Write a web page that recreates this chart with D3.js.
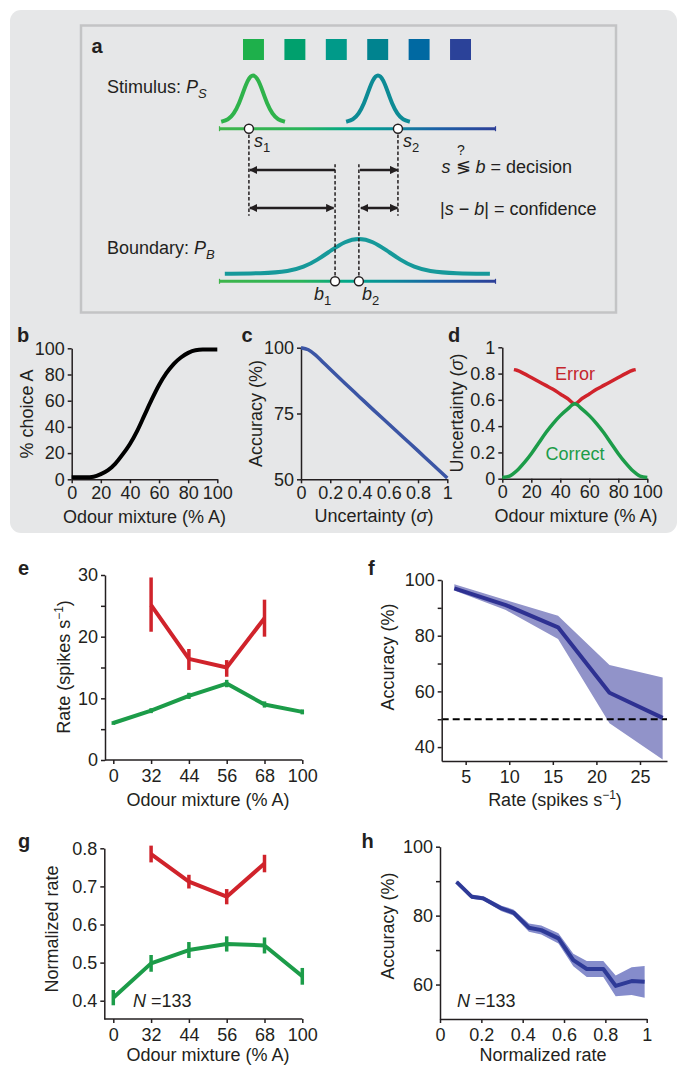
<!DOCTYPE html>
<html><head><meta charset="utf-8">
<script src="https://cdn.jsdelivr.net/npm/d3@7/dist/d3.min.js"></script>
<style>html,body{margin:0;padding:0;background:#fff}</style>
</head><body>
<svg id="fig" width="677" height="1067" xmlns="http://www.w3.org/2000/svg"></svg>
<script>
// ---------------- data ----------------
// panel a (schematic)
const swatchColors = ["#1eb04b","#00a06d","#009a89","#00838f","#0069a2","#2b4299"];
const stimulusCenters = [0.123, 0.574];
const stimulusColors = ["#2fb34b","#0d8b95"];
const stimulusSamples = [0.108, 0.646];     // s1, s2
const boundaryCenter = 0.505;
const boundarySamples = [0.419, 0.505];     // b1, b2
const stimProfileOffsets = [-0.115,-0.09,-0.07,-0.05,-0.035,-0.02,0,0.02,0.035,0.05,0.07,0.09,0.115];
const stimProfileHeights = [0,0.04,0.15,0.38,0.62,0.86,1,0.86,0.62,0.38,0.15,0.04,0];
const boundProfileOffsets = [-0.484,-0.35,-0.25,-0.2,-0.15,-0.1,-0.05,0,0.05,0.1,0.15,0.2,0.25,0.35,0.473];
const boundProfileHeights = [0,0.005,0.07,0.18,0.38,0.65,0.9,1,0.9,0.65,0.38,0.18,0.07,0.005,0];

// panel b
const bMixture = [0,5,10,15,20,25,30,35,40,45,50,55,60,65,70,75,80,85,90,95,100];
const bChoiceA = [1.5,1.5,1.5,2,4,7,12,19,27,37,49,61,72,81,88,93,96.5,98.5,99,99,99];
const bTicks = [0,20,40,60,80,100];

// panel c
const cSigma = [0,0.05,0.1,0.15,0.2,0.3,0.4,0.5,0.6,0.7,0.8,0.9,1];
const cAccuracy = [100,99.2,97.2,94.5,91.8,86.5,81.3,76.1,71,65.9,60.8,55.6,50.5];
const cXTicks = [0,0.2,0.4,0.6,0.8,1];
const cYTicks = [50,75,100];

// panel d
const dCorrectX = [0,5,10,15,20,25,30,35,40,45,50,55,60,65,70,75,80,85,90,95,100];
const dCorrect = [0.01,0.02,0.06,0.12,0.19,0.27,0.35,0.42,0.48,0.53,0.57,0.53,0.48,0.42,0.35,0.27,0.19,0.12,0.06,0.02,0.01];
const dErrorX = [8,10,15,20,25,30,35,40,45,50,55,60,65,70,75,80,85,90,92];
const dError = [0.83,0.825,0.80,0.77,0.74,0.71,0.68,0.645,0.61,0.57,0.61,0.645,0.68,0.71,0.74,0.77,0.80,0.825,0.83];
const dXTicks = [0,20,40,60,80,100];
const dYTicks = [0,0.2,0.4,0.6,0.8,1];

// panel e
const mixCats = ["0","32","44","56","68","100"];
const eCorrect = [6, 8, 10.4, 12.4, 9, 7.8];
const eCorrectErr = [0.3, 0.4, 0.5, 0.6, 0.5, 0.4];
const errCats = ["32","44","56","68"];
const eError = [25.1, 16.4, 15, 23];
const eErrorLow = [20.8, 14.6, 13.5, 20];
const eErrorHigh = [29.6, 18, 16.2, 26];
const eYTicks = [0,5,10,15,20,25,30];

// panel f
const fRate = [3.7, 9.6, 15.6, 21.5, 27.6];
const fAccuracy = [97, 91, 83, 59.5, 50.5];
const fUpper = [98.5, 92.8, 87.2, 69.5, 65];
const fLower = [96.2, 89.2, 78.8, 48.6, 35.5];
const fChance = 50;
const fXTicks = [5,10,15,20,25];
const fYTicks = [40,50,60,70,80,90,100];

// panel g
const gCorrect = [0.408, 0.498, 0.533, 0.549, 0.545, 0.464];
const gCorrectErr = [0.02, 0.022, 0.021, 0.02, 0.021, 0.022];
const gError = [0.785, 0.7125, 0.673, 0.76];
const gErrorErr = [0.022, 0.018, 0.02, 0.023];
const gYTicks = [0.4,0.5,0.6,0.7,0.8];

// panel h
const hRate = [0.08,0.153,0.21,0.298,0.355,0.43,0.49,0.573,0.645,0.71,0.79,0.85,0.927,0.99];
const hAccuracy = [89.8,85.5,85,82.1,80.9,76.5,75.8,73.4,67.1,64.5,64.5,59.6,61,60.8];
const hSem = [0.4,0.6,0.6,0.8,0.9,1.2,1.3,1.5,1.8,2.3,2.3,3,4,4.6];
const hXTicks = [0,0.2,0.4,0.6,0.8,1];
const hYTicks = [60,70,80,90,100];

// ---------------- drawing ----------------
const FONT = '"Liberation Sans", Arial, Helvetica, sans-serif';
const INK = "#231f20";
const RED = "#d0232b", GREEN = "#1c9c49";
const FS = 18;
const svg = d3.select("#fig").style("font-family", FONT);

svg.append("rect").attr("width",677).attr("height",1067).attr("fill","#fff");
svg.append("rect").attr("x",10).attr("y",10).attr("width",667).attr("height",523).attr("rx",11).attr("fill","#e6e7e8");
svg.append("rect").attr("x",81).attr("y",25.5).attr("width",535).attr("height",287)
  .attr("fill","none").attr("stroke","#c3c4c5").attr("stroke-width",2.5);

function txt(x, y, s, opts = {}) {
  const t = svg.append("text").attr("x",x).attr("y",y).attr("font-size",opts.size||FS)
    .attr("fill",opts.fill||INK).attr("text-anchor",opts.anchor||"start");
  if (opts.weight) t.attr("font-weight",opts.weight);
  if (opts.italic) t.attr("font-style","italic");
  if (s !== null) t.text(s);
  return t;
}
function panelLabel(x, y, s) { txt(x, y, s, {size:20, weight:700}); }

function styleAxis(g) {
  g.attr("font-family", FONT).attr("font-size", FS);
  g.selectAll(".domain").attr("stroke", INK).attr("stroke-width", 1.5);
  g.selectAll(".tick line").attr("stroke", INK).attr("stroke-width", 1.5);
  g.selectAll(".tick text").attr("fill", INK);
}
function yTitle(x, y, build) {
  const t = svg.append("text").attr("transform",`translate(${x},${y}) rotate(-90)`)
    .attr("text-anchor","middle").attr("font-size",FS).attr("fill",INK);
  build(t);
}
function xTitle(x, y, build) {
  const t = svg.append("text").attr("x",x).attr("y",y)
    .attr("text-anchor","middle").attr("font-size",FS).attr("fill",INK);
  build(t);
}
const plain = s => t => t.text(s);
const sigmaTitle = t => { t.append("tspan").text("Uncertainty ("); t.append("tspan").attr("font-style","italic").text("σ"); t.append("tspan").text(")"); };
const rateTitle = t => { t.append("tspan").text("Rate (spikes s"); t.append("tspan").attr("font-size",12).attr("dy",-7).text("−1"); t.append("tspan").attr("dy",7).text(")"); };

// ======== panel a ========
panelLabel(91.5, 53, "a");
const sw = d3.scaleBand().domain(d3.range(swatchColors.length)).range([243,471]).paddingInner(0.494);
svg.append("g").selectAll("rect").data(swatchColors).join("rect")
  .attr("x",(d,i)=>sw(i)).attr("y",39).attr("width",sw.bandwidth()).attr("height",21).attr("fill",d=>d);

const ax = d3.scaleLinear().domain([0,1]).range([219,496]);
const stimLineY = 128.7, boundLineY = 281.3;
const stimY = d3.scaleLinear().domain([0,1]).range([121.7, 73.3]);
const boundY = d3.scaleLinear().domain([0,1]).range([273.7, 237.7]);

const defs = svg.append("defs");
const grad = defs.append("linearGradient").attr("id","axisGrad").attr("gradientUnits","userSpaceOnUse")
  .attr("x1",ax(0)).attr("x2",ax(1)).attr("y1",0).attr("y2",0);
[[0,"#3fb54a"],[0.3,"#2ab45a"],[0.47,"#00a78b"],[0.62,"#0b8d98"],[0.78,"#1c62a7"],[1,"#2d3f98"]]
  .forEach(([o,c]) => grad.append("stop").attr("offset",o).attr("stop-color",c));
const mk = defs.append("marker").attr("id","arr").attr("viewBox","0 0 10 10").attr("refX",9).attr("refY",5)
  .attr("markerWidth",3.6).attr("markerHeight",3.6).attr("markerUnits","strokeWidth").attr("orient","auto-start-reverse");
mk.append("path").attr("d","M0,0 L10,5 L0,10 z").attr("fill",INK);

// axis lines with gradient
[stimLineY, boundLineY].forEach(y => {
  svg.append("line").attr("x1",ax(0)).attr("x2",ax(1)).attr("y1",y).attr("y2",y)
    .attr("stroke","url(#axisGrad)").attr("stroke-width",3);
  svg.append("line").attr("x1",ax(0)+0.5).attr("x2",ax(0)+0.5).attr("y1",y-2.5).attr("y2",y+2.5).attr("stroke","#3fb54a").attr("stroke-width",1.2);
  svg.append("line").attr("x1",ax(1)-0.5).attr("x2",ax(1)-0.5).attr("y1",y-2.5).attr("y2",y+2.5).attr("stroke","#2d3f98").attr("stroke-width",1.2);
});

// stimulus distributions
stimulusCenters.forEach((c, i) => {
  const pts = stimProfileOffsets.map((o,j)=>[c+o, stimProfileHeights[j]]);
  svg.append("path").datum(pts)
    .attr("d", d3.line().x(d=>ax(d[0])).y(d=>stimY(d[1])).curve(d3.curveBasis))
    .attr("fill","none").attr("stroke",stimulusColors[i]).attr("stroke-width",4);
});
// boundary distribution
{
  const pts = boundProfileOffsets.map((o,j)=>[boundaryCenter+o, boundProfileHeights[j]]);
  svg.append("path").datum(pts)
    .attr("d", d3.line().x(d=>ax(d[0])).y(d=>boundY(d[1])).curve(d3.curveBasis))
    .attr("fill","none").attr("stroke","#16999a").attr("stroke-width",4);
}

// dashed guides
const dashTopS = 215.7, dashTopB = 164.3;
stimulusSamples.forEach(s => svg.append("line").attr("x1",ax(s)).attr("x2",ax(s)).attr("y1",stimLineY).attr("y2",dashTopS)
  .attr("stroke",INK).attr("stroke-width",1.5).attr("stroke-dasharray","3.5,2.2"));
boundarySamples.forEach(b => svg.append("line").attr("x1",ax(b)).attr("x2",ax(b)).attr("y1",boundLineY).attr("y2",dashTopB)
  .attr("stroke",INK).attr("stroke-width",1.5).attr("stroke-dasharray","3.5,2.2"));

// arrows
const arrows = [
  {y:170, from: ax(boundarySamples[0]), to: ax(stimulusSamples[0])+1, both:false},
  {y:170, from: ax(boundarySamples[1])+1, to: ax(stimulusSamples[1])-0.5, both:false},
  {y:208, from: ax(stimulusSamples[0])+1, to: ax(boundarySamples[0])-1.5, both:true},
  {y:208, from: ax(boundarySamples[1])+2, to: ax(stimulusSamples[1])-0.5, both:true}
];
arrows.forEach(a => {
  const l = svg.append("line").attr("x1",a.from).attr("x2",a.to).attr("y1",a.y).attr("y2",a.y)
    .attr("stroke",INK).attr("stroke-width",2.3).attr("marker-end","url(#arr)");
  if (a.both) l.attr("marker-start","url(#arr)");
});

// sample circles
stimulusSamples.forEach(s => svg.append("circle").attr("cx",ax(s)).attr("cy",stimLineY).attr("r",4.5)
  .attr("fill","#fff").attr("stroke",INK).attr("stroke-width",1.4));
boundarySamples.forEach(b => svg.append("circle").attr("cx",ax(b)).attr("cy",boundLineY).attr("r",4.5)
  .attr("fill","#fff").attr("stroke",INK).attr("stroke-width",1.4));

function subLabel(x, y, main, sub, italicSub) {
  const t = txt(x, y, null);
  t.append("tspan").attr("font-style","italic").text(main);
  const s = t.append("tspan").attr("font-size",13).attr("dy",5).text(sub);
  if (italicSub) s.attr("font-style","italic");
  return t;
}
subLabel(ax(stimulusSamples[0])+5, 146.5, "s", "1");
subLabel(ax(stimulusSamples[1])+5, 146.5, "s", "2");
subLabel(ax(boundarySamples[0])-21, 300, "b", "1");
subLabel(ax(boundarySamples[1])+3, 300, "b", "2");

{
  const t = txt(107, 93.3, "Stimulus: ");
  t.append("tspan").attr("font-style","italic").text("P");
  t.append("tspan").attr("font-style","italic").attr("font-size",13).attr("dy",5).text("S");
  const t2 = txt(107, 254.3, "Boundary: ");
  t2.append("tspan").attr("font-style","italic").text("P");
  t2.append("tspan").attr("font-style","italic").attr("font-size",13).attr("dy",5).text("B");
}
txt(461, 155, "?", {size:14, anchor:"middle"});
{
  const t = txt(441.5, 173.3, null);
  t.append("tspan").attr("font-style","italic").text("s");
  t.append("tspan").text(" ≶ ");
  t.append("tspan").attr("font-style","italic").text("b");
  t.append("tspan").text(" = decision");
  const t2 = txt(440, 215, null);
  t2.append("tspan").text("|");
  t2.append("tspan").attr("font-style","italic").text("s");
  t2.append("tspan").text(" − ");
  t2.append("tspan").attr("font-style","italic").text("b");
  t2.append("tspan").text("| = confidence");
}

// ======== panel b ========
panelLabel(17, 342, "b");
{
  const x = d3.scaleLinear().domain([0,100]).range([71.7,217.3]);
  const y = d3.scaleLinear().domain([0,100]).range([479.3,348.3]);
  svg.append("g").attr("transform",`translate(0,${y(0)})`)
    .call(d3.axisBottom(x).tickValues(bTicks).tickSize(4).tickPadding(3).tickSizeOuter(0)).call(styleAxis);
  svg.append("g").attr("transform",`translate(${x(0)},0)`)
    .call(d3.axisLeft(y).tickValues(bTicks).tickSize(4).tickPadding(3).tickSizeOuter(0)).call(styleAxis);
  svg.append("path").datum(bMixture.map((m,i)=>[m,bChoiceA[i]]))
    .attr("d", d3.line().x(d=>x(d[0])).y(d=>y(d[1])).curve(d3.curveMonotoneX))
    .attr("fill","none").attr("stroke","#000").attr("stroke-width",4);
  xTitle(144.5, 523, plain("Odour mixture (% A)"));
  yTitle(33, 414, plain("% choice A"));
}

// ======== panel c ========
panelLabel(241.5, 342, "c");
{
  const x = d3.scaleLinear().domain([0,1]).range([301,447.3]);
  const y = d3.scaleLinear().domain([50,100]).range([479.3,347.7]);
  svg.append("g").attr("transform",`translate(0,${y(50)})`)
    .call(d3.axisBottom(x).tickValues(cXTicks).tickFormat(d3.format("~g")).tickSize(4).tickPadding(3).tickSizeOuter(0)).call(styleAxis);
  svg.append("g").attr("transform",`translate(${x(0)},0)`)
    .call(d3.axisLeft(y).tickValues(cYTicks).tickSize(4).tickPadding(3).tickSizeOuter(0)).call(styleAxis);
  svg.append("path").datum(cSigma.map((s,i)=>[s,cAccuracy[i]]))
    .attr("d", d3.line().x(d=>x(d[0])).y(d=>y(d[1])).curve(d3.curveMonotoneX))
    .attr("fill","none").attr("stroke","#3b55a5").attr("stroke-width",3.5);
  xTitle(374, 522, sigmaTitle);
  yTitle(262, 413.5, plain("Accuracy (%)"));
}

// ======== panel d ========
panelLabel(448, 342, "d");
{
  const x = d3.scaleLinear().domain([0,100]).range([502.3,647.3]);
  const y = d3.scaleLinear().domain([0,1]).range([478.7,347.3]);
  svg.append("g").attr("transform",`translate(0,${y(0)})`)
    .call(d3.axisBottom(x).tickValues(dXTicks).tickSize(4).tickPadding(3).tickSizeOuter(0)).call(styleAxis);
  svg.append("g").attr("transform",`translate(${x(0)},0)`)
    .call(d3.axisLeft(y).tickValues(dYTicks).tickFormat(d3.format("~g")).tickSize(4).tickPadding(3).tickSizeOuter(0)).call(styleAxis);
  const ln = d3.line().x(d=>x(d[0])).y(d=>y(d[1])).curve(d3.curveMonotoneX);
  svg.append("path").datum(dErrorX.map((m,i)=>[m,dError[i]])).attr("d", ln)
    .attr("fill","none").attr("stroke",RED).attr("stroke-width",3.5);
  svg.append("path").datum(dCorrectX.map((m,i)=>[m,dCorrect[i]])).attr("d", ln)
    .attr("fill","none").attr("stroke",GREEN).attr("stroke-width",3.5);
  txt(575, 380, "Error", {anchor:"middle", fill:"#c4262e"});
  txt(575, 460, "Correct", {anchor:"middle", fill:GREEN});
  xTitle(576, 522, plain("Odour mixture (% A)"));
  yTitle(463, 413, sigmaTitle);
}

// ======== shared for e & g ========
function catPanel(yScale, yTicks, yFmt, corr, corrLo, corrHi, err, errLo, errHi, axisLeftX) {
  const x = d3.scalePoint().domain(mixCats).range([113.3,302.3]);
  const y0 = yScale.range()[0];
  const gx = svg.append("g").attr("transform",`translate(0,${y0})`)
    .call(d3.axisBottom(x).tickSize(4).tickPadding(5).tickSizeOuter(0)).call(styleAxis);
  gx.select(".domain").remove();
  svg.append("line").attr("x1",axisLeftX).attr("x2",x("100")).attr("y1",y0).attr("y2",y0).attr("stroke",INK).attr("stroke-width",1.5);
  svg.append("g").attr("transform",`translate(${axisLeftX},0)`)
    .call(d3.axisLeft(yScale).tickValues(yTicks).tickFormat(yFmt).tickSize(4).tickPadding(3).tickSizeOuter(0)).call(styleAxis);
  const ln = d3.line().x(d=>x(d[0])).y(d=>yScale(d[1]));
  const series = [
    {cats: mixCats, v: corr, lo: corrLo, hi: corrHi, c: GREEN},
    {cats: errCats, v: err, lo: errLo, hi: errHi, c: RED}
  ];
  series.forEach(s => {
    svg.append("path").datum(s.cats.map((c,i)=>[c,s.v[i]])).attr("d", ln)
      .attr("fill","none").attr("stroke",s.c).attr("stroke-width",4).attr("stroke-linejoin","round");
    svg.append("g").selectAll("line").data(s.cats).join("line")
      .attr("x1",c=>x(c)).attr("x2",c=>x(c))
      .attr("y1",(c,i)=>yScale(s.lo[i])).attr("y2",(c,i)=>yScale(s.hi[i]))
      .attr("stroke",s.c).attr("stroke-width",3.5);
  });
  return x;
}

// ======== panel e ========
panelLabel(18, 575, "e");
{
  const y = d3.scaleLinear().domain([0,30]).range([760,575]);
  catPanel(y, eYTicks, d => d % 10 === 0 ? d : "",
    eCorrect, eCorrect.map((v,i)=>v-eCorrectErr[i]), eCorrect.map((v,i)=>v+eCorrectErr[i]),
    eError, eErrorLow, eErrorHigh, 105);
  xTitle(208, 806, plain("Odour mixture (% A)"));
  yTitle(70, 667, rateTitle);
}

// ======== panel f ========
panelLabel(368, 575, "f");
{
  const x = d3.scaleLinear().domain([2.25,28.1]).range([441.7,667]);
  const y = d3.scaleLinear().domain([35,100]).range([761,580]);
  svg.append("path").datum(fRate.map((r,i)=>[r,fLower[i],fUpper[i]]))
    .attr("d", d3.area().x(d=>x(d[0])).y0(d=>y(d[1])).y1(d=>y(d[2])))
    .attr("fill","#9193c9");
  svg.append("line").attr("x1",x(2.25)).attr("x2",x(28.1)).attr("y1",y(fChance)).attr("y2",y(fChance))
    .attr("stroke","#000").attr("stroke-width",2).attr("stroke-dasharray","7,4");
  svg.append("path").datum(fRate.map((r,i)=>[r,fAccuracy[i]]))
    .attr("d", d3.line().x(d=>x(d[0])).y(d=>y(d[1])))
    .attr("fill","none").attr("stroke","#2e3192").attr("stroke-width",4).attr("stroke-linejoin","round");
  svg.append("g").attr("transform",`translate(0,${y(35)})`)
    .call(d3.axisBottom(x).tickValues(fXTicks).tickSize(4).tickPadding(5).tickSizeOuter(0)).call(styleAxis);
  svg.append("g").attr("transform",`translate(${x(2.25)},0)`)
    .call(d3.axisLeft(y).tickValues(fYTicks).tickFormat(d => d % 20 === 0 ? d : "").tickSize(4).tickPadding(3).tickSizeOuter(0)).call(styleAxis);
  xTitle(555, 806, rateTitle);
  yTitle(394, 657, plain("Accuracy (%)"));
}

// ======== panel g ========
panelLabel(18, 848, "g");
{
  const y = d3.scaleLinear().domain([0.352,0.8]).range([1019,848.3]);
  catPanel(y, gYTicks, d3.format(".1f"),
    gCorrect, gCorrect.map((v,i)=>v-gCorrectErr[i]), gCorrect.map((v,i)=>v+gCorrectErr[i]),
    gError, gError.map((v,i)=>v-gErrorErr[i]), gError.map((v,i)=>v+gErrorErr[i]), 104.3);
  xTitle(208, 1061, plain("Odour mixture (% A)"));
  yTitle(58, 929, plain("Normalized rate"));
  const t = txt(133, 1007, null);
  t.append("tspan").attr("font-style","italic").text("N");
  t.append("tspan").text(" =133");
}

// ======== panel h ========
panelLabel(361.5, 848, "h");
{
  const x = d3.scaleLinear().domain([0,1]).range([440,646.7]);
  const y = d3.scaleLinear().domain([50,100]).range([1019,846.7]);
  svg.append("path").datum(hRate.map((r,i)=>[r,hAccuracy[i]-hSem[i],hAccuracy[i]+hSem[i]]))
    .attr("d", d3.area().x(d=>x(d[0])).y0(d=>y(d[1])).y1(d=>y(d[2])))
    .attr("fill","#858ccb");
  svg.append("path").datum(hRate.map((r,i)=>[r,hAccuracy[i]]))
    .attr("d", d3.line().x(d=>x(d[0])).y(d=>y(d[1])))
    .attr("fill","none").attr("stroke","#2e3a97").attr("stroke-width",4).attr("stroke-linejoin","round");
  svg.append("g").attr("transform",`translate(0,${y(50)})`)
    .call(d3.axisBottom(x).tickValues(hXTicks).tickFormat(d3.format("~g")).tickSize(4).tickPadding(5).tickSizeOuter(0)).call(styleAxis);
  svg.append("g").attr("transform",`translate(${x(0)},0)`)
    .call(d3.axisLeft(y).tickValues(hYTicks).tickFormat(d => d % 20 === 0 ? d : "").tickSize(4).tickPadding(3).tickSizeOuter(0)).call(styleAxis);
  xTitle(543, 1061, plain("Normalized rate"));
  yTitle(394, 926, plain("Accuracy (%)"));
  const t = txt(457, 1007, null);
  t.append("tspan").attr("font-style","italic").text("N");
  t.append("tspan").text(" =133");
}
</script>
</body></html>
